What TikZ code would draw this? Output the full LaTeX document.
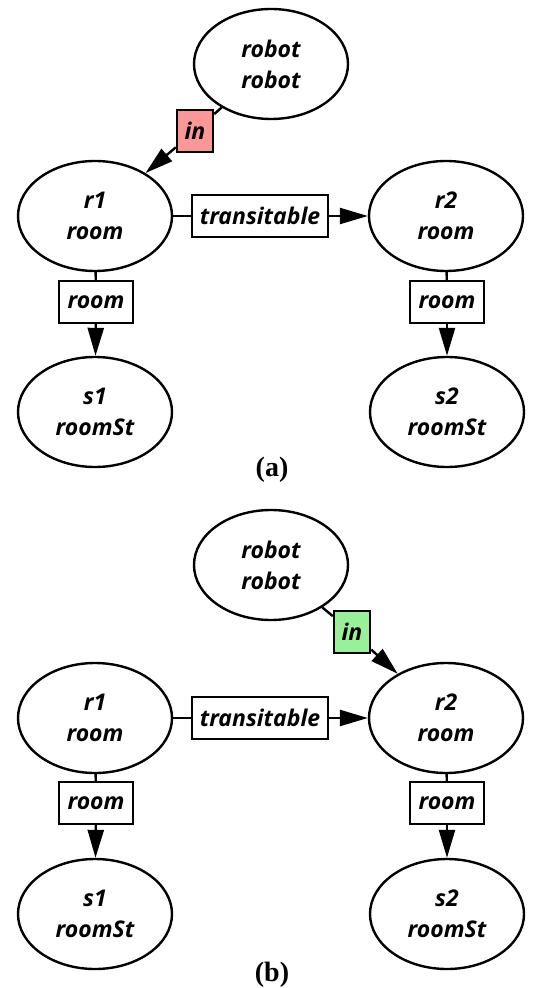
\documentclass[tikz,border=0pt]{standalone}
\usepackage{fontspec}
\setmainfont{Liberation Serif}
\newfontfamily\graphfont{Open Sans}
\usepackage{xcolor}
\usepackage{tikz}
\usetikzlibrary{shapes.geometric,arrows.meta}
\definecolor{inred}{RGB}{250,152,152}
\definecolor{ingreen}{RGB}{152,240,152}
\tikzstyle{entity}=[fill=white, draw=black, line width=1.2pt, shape=ellipse, minimum width=77pt, minimum height=55pt, inner sep=0pt, align=center, font={\graphfont\bfseries\itshape\fontsize{11.5}{15.5}\selectfont}]
\tikzstyle{relation}=[fill=white, draw=black, line width=1.2pt, shape=rectangle, minimum height=21pt, inner sep=2pt, font={\graphfont\bfseries\itshape\fontsize{11.5}{13}\selectfont}]
\tikzstyle{red relation}=[relation, fill=inred, minimum width=18pt]
\tikzstyle{green relation}=[relation, fill=ingreen, minimum width=18pt]
\tikzstyle{plain edge}=[-, draw=black, line width=1.2pt]
\tikzstyle{arrow edge}=[-{Triangle[length=14pt,width=8pt]}, draw=black, line width=1.2pt]
\tikzstyle{caption}=[font={\bfseries\fontsize{14}{16}\selectfont}]
\pgfdeclarelayer{nodelayer}
\pgfdeclarelayer{edgelayer}
\pgfsetlayers{nodelayer,edgelayer,main}

\begin{document}
\begin{tikzpicture}[x=0.5pt, y=-0.5pt]
	\useasboundingbox (0,0) rectangle (544,988);
	% (a)
	\begin{pgfonlayer}{nodelayer}
		\node [style=entity] (0) at (271, 64) {robot\\robot};
		\node [style=red relation] (1) at (195, 131) {in};
		\node [style=entity] (2) at (95, 216) {r1\\room};
		\node [style=entity] (3) at (446, 216) {r2\\room};
		\node [style=relation, minimum width=68pt] (4) at (260, 216) {transitable};
		\node [style=relation, minimum width=37pt] (5) at (96, 302) {room};
		\node [style=relation, minimum width=37pt] (6) at (447, 302) {room};
		\node [style=entity] (7) at (95, 412) {s1\\roomSt};
		\node [style=entity] (8) at (447, 412) {s2\\roomSt};
		\node [style=caption] (9) at (272, 470) {(a)};
	\end{pgfonlayer}
	\begin{pgfonlayer}{edgelayer}
		\draw [style=plain edge] (0) to (1);
		\draw [style=arrow edge] (1) to (2);
		\draw [style=plain edge] (2) to (4);
		\draw [style=arrow edge] (4) to (3);
		\draw [style=plain edge] (2) to (5);
		\draw [style=arrow edge] (5) to (7);
		\draw [style=plain edge] (3) to (6);
		\draw [style=arrow edge] (6) to (8);
	\end{pgfonlayer}
	% (b)
	\begin{pgfonlayer}{nodelayer}
		\node [style=entity] (10) at (271, 565) {robot\\robot};
		\node [style=green relation] (11) at (352, 632) {in};
		\node [style=entity] (12) at (95, 718) {r1\\room};
		\node [style=entity] (13) at (446, 718) {r2\\room};
		\node [style=relation, minimum width=68pt] (14) at (260, 718) {transitable};
		\node [style=relation, minimum width=37pt] (15) at (96, 803) {room};
		\node [style=relation, minimum width=37pt] (16) at (447, 803) {room};
		\node [style=entity] (17) at (95, 914) {s1\\roomSt};
		\node [style=entity] (18) at (447, 914) {s2\\roomSt};
		\node [style=caption] (19) at (272, 975) {(b)};
	\end{pgfonlayer}
	\begin{pgfonlayer}{edgelayer}
		\draw [style=plain edge] (10) to (11);
		\draw [style=arrow edge] (11) to (13);
		\draw [style=plain edge] (12) to (14);
		\draw [style=arrow edge] (14) to (13);
		\draw [style=plain edge] (12) to (15);
		\draw [style=arrow edge] (15) to (17);
		\draw [style=plain edge] (13) to (16);
		\draw [style=arrow edge] (16) to (18);
	\end{pgfonlayer}
\end{tikzpicture}
\end{document}
